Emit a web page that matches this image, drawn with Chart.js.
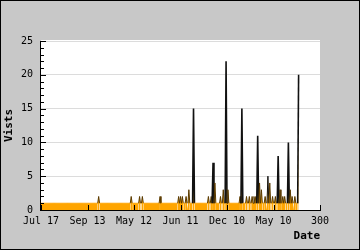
<!DOCTYPE html>
<html>
<head>
<meta charset="utf-8">
<script src="https://cdn.jsdelivr.net/npm/chart.js@4/dist/chart.umd.min.js"></script>
<style>
html,body{margin:0;padding:0;background:#c8c8c8;}
canvas{display:block;}
</style>
</head>
<body>
<canvas id="c" width="360" height="250"></canvas>
<script>
// Visits per day (index = day number on the x axis)
const visits = [
  1,1,1,1,1,1,1,1,1,1,1,1,1,1,1,1,1,1,1,1,
  1,1,1,1,1,1,1,1,1,1,1,1,1,1,1,1,1,1,1,1,
  1,1,1,1,1,1,1,1,1,1,1,1,1,1,1,1,1,1,1,1,
  1,1,2,1,1,1,1,1,1,1,1,1,1,1,1,1,1,1,1,1,
  1,1,1,1,1,1,1,1,1,1,1,1,1,1,1,1,1,2,1,1,
  1,1,1,1,1,1,2,1,1,2,1,1,1,1,1,1,1,1,1,1,
  1,1,1,1,1,1,1,1,2,1,1,1,1,1,1,1,1,1,1,1,
  1,1,1,1,1,1,1,1,2,1,2,1,2,1,1,1,2,1,1,3,
  1,1,1,1,15,1,1,1,1,1,1,1,1,1,1,1,1,1,1,1,
  2,1,1,2,1,7,1,4,1,1,1,1,1,2,1,1,3,1,1,22,
  1,3,1,1,1,1,1,1,1,1,1,1,1,1,2,1,15,1,1,1,
  1,2,1,1,2,1,1,2,1,2,1,2,1,11,1,4,1,3,1,1,
  1,2,1,1,5,1,4,1,1,2,1,1,2,1,1,8,1,3,1,1,
  2,1,2,1,1,1,10,1,3,1,2,1,1,2,1,1,1,20
];
const xTickValues = [0, 50, 100, 150, 200, 250, 300];
const xTickLabels = ["Jul 17", "Sep 13", "May 12", "Jun 11", "Dec 10", "May 10", "300"];
const yTickValues = [0, 5, 10, 15, 20, 25];
const yTitle = "Vists";
const xTitle = "Date";

const points = visits.map((v, i) => ({x: i, y: v}));

const frame = {
  id: 'frame',
  beforeDraw(chart) {
    const {ctx, chartArea: a} = chart;
    ctx.save();
    ctx.fillStyle = '#c8c8c8';
    ctx.fillRect(0, 0, chart.width, chart.height);
    ctx.fillStyle = '#ffffff';
    ctx.fillRect(a.left, a.top - 1, a.right - a.left, a.bottom - a.top + 1);
    ctx.restore();
  },
  afterDatasetsDraw(chart) {
    const {ctx, chartArea: a} = chart;
    const xs = chart.scales.x, ys = chart.scales.y;
    ctx.save();
    ctx.strokeStyle = '#000';
    ctx.lineWidth = 1;
    ctx.beginPath();
    ctx.moveTo(a.left - 0.5, a.top);
    ctx.lineTo(a.left - 0.5, a.bottom + 1);
    ctx.moveTo(a.left - 1, a.bottom + 0.5);
    ctx.lineTo(a.right + 1, a.bottom + 0.5);
    for (let v = ys.min; v <= ys.max; v++) {
      const py = Math.round(ys.getPixelForValue(v)) + 0.5;
      const len = (v % 5 === 0) ? 5 : 3;
      ctx.moveTo(a.left, py);
      ctx.lineTo(a.left + len, py);
    }
    xTickValues.forEach(v => {
      const px = Math.round(xs.getPixelForValue(v)) + 0.5;
      ctx.moveTo(px, a.bottom);
      ctx.lineTo(px, a.bottom - 5);
    });
    ctx.stroke();
    ctx.restore();
  },
  afterDraw(chart) {
    const ctx = chart.ctx;
    ctx.save();
    ctx.strokeStyle = '#000';
    ctx.lineWidth = 1;
    ctx.strokeRect(0.5, 0.5, chart.width - 1, chart.height - 1);
    ctx.restore();
  }
};

new Chart(document.getElementById('c'), {
  type: 'line',
  data: {
    datasets: [{
      data: points,
      backgroundColor: '#ffa500',
      borderColor: '#111111',
      borderWidth: 1,
      fill: 'origin',
      pointRadius: 0,
      tension: 0,
      segment: {
        borderColor: ctx => {
          const m = Math.max(ctx.p0.parsed.y, ctx.p1.parsed.y);
          return m <= 1 ? '#ffa500' : (m <= 4 ? '#5a3a00' : '#111111');
        },
        borderWidth: ctx => Math.max(ctx.p0.parsed.y, ctx.p1.parsed.y) > 6 ? 1.6 : 1
      }
    }]
  },
  options: {
    responsive: false,
    animation: false,
    devicePixelRatio: 1,
    layout: {padding: {top: 41, right: 40, bottom: 0, left: 0}},
    plugins: {legend: {display: false}, tooltip: {enabled: false}},
    scales: {
      x: {
        type: 'linear',
        min: 0, max: 300,
        afterFit(s) { s.height = 40; },
        afterBuildTicks(s) { s.ticks = xTickValues.map(v => ({value: v})); },
        grid: {display: false, drawTicks: false},
        border: {display: false},
        ticks: {
          maxRotation: 0, autoSkip: false, padding: 5, color: '#000',
          font: {family: 'DejaVu Sans Mono', size: 10},
          callback: v => xTickLabels[xTickValues.indexOf(v)]
        },
        title: {
          display: true, text: xTitle, align: 'end', color: '#000',
          font: {family: 'DejaVu Sans Mono', size: 11, weight: 'bold'},
          padding: {top: 0, bottom: 7}
        }
      },
      y: {
        min: 0, max: 25,
        afterFit(s) { s.width = 41; },
        afterBuildTicks(s) { s.ticks = yTickValues.map(v => ({value: v})); },
        grid: {color: '#dcdcdc', drawTicks: false},
        border: {display: false},
        ticks: {
          padding: 8, color: '#000',
          font: {family: 'DejaVu Sans Mono', size: 10}
        },
        title: {
          display: true, text: yTitle, color: '#000',
          font: {family: 'DejaVu Sans Mono', size: 11, weight: 'bold'},
          padding: {top: 3, bottom: 0}
        }
      }
    }
  },
  plugins: [frame]
});
</script>
</body>
</html>
